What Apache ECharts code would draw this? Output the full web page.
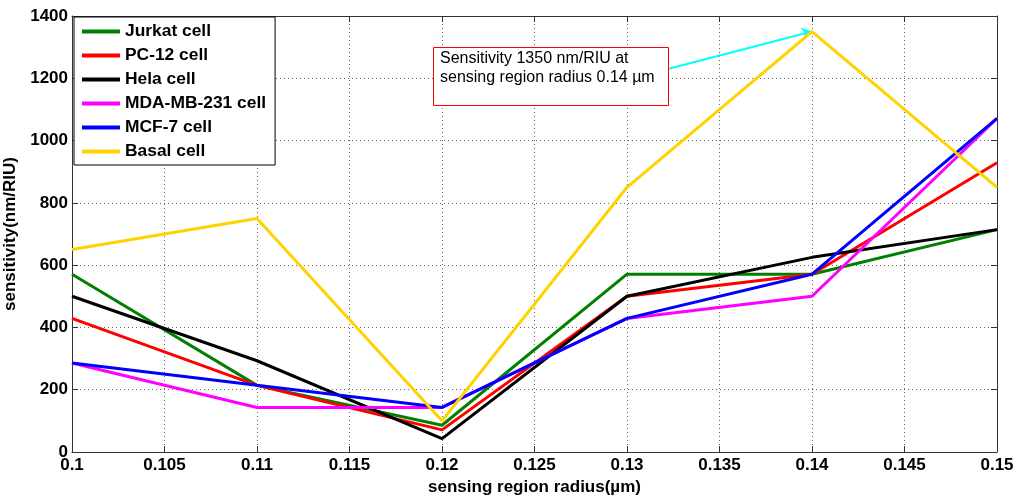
<!DOCTYPE html>
<html>
<head>
<meta charset="utf-8">
<script src="https://cdn.jsdelivr.net/npm/echarts@6/dist/echarts.min.js"></script>
<style>
  html, body { margin: 0; padding: 0; background: #fff; }
  #chart { width: 1021px; height: 496px; }
</style>
</head>
<body>
<div id="chart"></div>
<script>
// sensing region radius (µm)
const radius = [0.1, 0.11, 0.12, 0.13, 0.14, 0.15];

// sensitivity (nm/RIU) per cell type
const jurkat = [571, 214, 86, 571, 571, 714];
const pc12 = [429, 214, 71, 500, 571, 929];
const hela = [500, 293, 43, 500, 625, 714];
const mdaMb231 = [286, 143, 143, 429, 500, 1071];
const mcf7 = [286, 214, 143, 429, 571, 1071];
const basal = [650, 750, 100, 850, 1350, 850];

const seriesNames = ['Jurkat cell', 'PC-12 cell', 'Hela cell', 'MDA-MB-231 cell', 'MCF-7 cell', 'Basal cell'];
const seriesData = [jurkat, pc12, hela, mdaMb231, mcf7, basal];
const seriesColors = ['#008000', '#ff0000', '#000000', '#ff00ff', '#0000ff', '#ffd200'];

// annotation arrow: from text box edge to the peak point
const arrowFrom = [0.1322, 1230];
const arrowTo = [0.14, 1350];

const FONT = 'Liberation Sans, Arial, sans-serif';

const chart = echarts.init(document.getElementById('chart'));

const gridLine = { show: true, lineStyle: { type: [1, 3], color: '#666', width: 1 } };

const series = seriesNames.map((name, i) => ({
    name: name,
    type: 'line',
    data: radius.map((x, j) => [x, seriesData[i][j]]),
    showSymbol: false,
    lineStyle: { color: seriesColors[i], width: 3 },
    itemStyle: { color: seriesColors[i] },
    z: 2 + i
}));

// cyan arrow on the basal series
series[5].markLine = {
    silent: true,
    symbol: ['none', 'arrow'],
    symbolSize: 10,
    label: { show: false },
    lineStyle: { color: '#00ffff', width: 2, type: 'solid' },
    data: [[{ coord: arrowFrom }, { coord: arrowTo }]]
};

const option = {
    backgroundColor: '#fff',
    animation: false,
    grid: { left: 72, right: 24, top: 16, bottom: 44, containLabel: false, outerBoundsMode: 'none' },
    legend: {
        orient: 'vertical',
        left: 74,
        top: 17,
        padding: [6, 9, 5, 8],
        itemWidth: 38,
        itemHeight: 4,
        itemGap: 7,
        icon: 'rect',
        backgroundColor: '#fff',
        borderColor: '#000',
        borderWidth: 1,
        textStyle: { fontFamily: FONT, fontWeight: 'bold', fontSize: 17.4, color: '#000', lineHeight: 17 },
        data: seriesNames
    },
    xAxis: [{
        type: 'value',
        min: 0.1,
        max: 0.15,
        interval: 0.005,
        name: 'sensing region radius(µm)',
        nameLocation: 'middle',
        nameGap: 27,
        nameTextStyle: { fontFamily: FONT, fontWeight: 'bold', fontSize: 17, color: '#000' },
        axisLine: { show: true, lineStyle: { color: '#333', width: 1 } },
        axisTick: { show: true, inside: true, length: 6, lineStyle: { color: '#333' } },
        axisLabel: {
            fontFamily: FONT, fontWeight: 'bold', fontSize: 17, color: '#000', margin: 5,
            formatter: v => String(+v.toFixed(3))
        },
        splitLine: gridLine
    }, {
        type: 'value',
        position: 'top',
        min: 0.1,
        max: 0.15,
        interval: 0.005,
        axisLine: { show: true, onZero: false, lineStyle: { color: '#333', width: 1 } },
        axisTick: { show: true, inside: true, length: 6, lineStyle: { color: '#333' } },
        axisLabel: { show: false },
        splitLine: { show: false }
    }],
    yAxis: [{
        type: 'value',
        min: 0,
        max: 1400,
        interval: 200,
        name: 'sensitivity(nm/RIU)',
        nameLocation: 'middle',
        nameGap: 48,
        nameTextStyle: { fontFamily: FONT, fontWeight: 'bold', fontSize: 17, color: '#000' },
        axisLine: { show: true, lineStyle: { color: '#333', width: 1 } },
        axisTick: { show: true, inside: true, length: 6, lineStyle: { color: '#333' } },
        axisLabel: {
            fontFamily: FONT, fontWeight: 'bold', fontSize: 17, color: '#000', margin: 4,
            formatter: v => String(v)
        },
        splitLine: gridLine
    }, {
        type: 'value',
        position: 'right',
        min: 0,
        max: 1400,
        interval: 200,
        axisLine: { show: true, onZero: false, lineStyle: { color: '#333', width: 1 } },
        axisTick: { show: true, inside: true, length: 6, lineStyle: { color: '#333' } },
        axisLabel: { show: false },
        splitLine: { show: false }
    }],
    graphic: [{
        type: 'rect',
        left: 433,
        top: 47,
        shape: { width: 235, height: 58 },
        style: { fill: '#fff', stroke: '#ff0000', lineWidth: 1 },
        z: 100
    }, {
        type: 'text',
        left: 440,
        top: 49,
        style: {
            text: 'Sensitivity 1350 nm/RIU at\nsensing region radius 0.14 µm',
            fontFamily: FONT,
            fontSize: 16,
            lineHeight: 19,
            fill: '#000'
        },
        z: 101
    }],
    series: series
};

chart.setOption(option);
</script>
</body>
</html>
